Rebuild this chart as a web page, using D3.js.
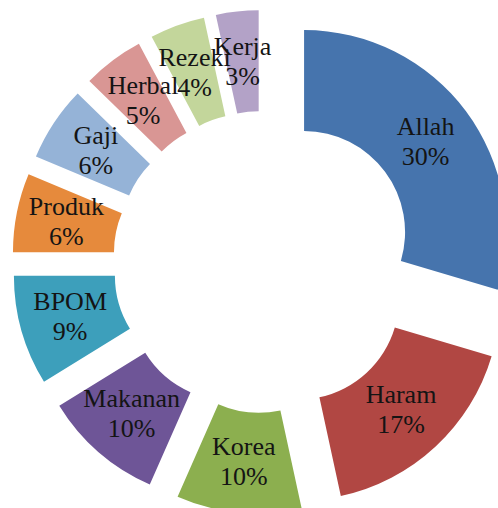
<!DOCTYPE html>
<html>
<head>
<meta charset="utf-8">
<script src="https://cdn.jsdelivr.net/npm/d3@7"></script>
<style>
  body { margin: 0; background: #fff; }
  #chart svg { display: block; }
</style>
</head>
<body>
<div id="chart"></div>
<script>
  // data
  let categories = ['Allah', 'Haram', 'Korea', 'Makanan', 'BPOM', 'Produk', 'Gaji', 'Herbal', 'Rezeki', 'Kerja']
  let values = [29.6, 17.0, 10.0, 9.6, 8.8, 6.3, 6.0, 4.9, 4.4, 3.4]
  let colors = ['#4674AD', '#B14743', '#8CAF4F', '#6E5597', '#3D9FBB', '#E68A3C', '#95B3D7', '#D99694', '#C3D69B', '#B3A2C7']

  let width = 498
  let height = 508
  let cx = 264
  let cy = 262
  let outerR = 202
  let innerR = 101
  let explode = 50

  let data = categories.map((c, i) => ({ name: c, value: values[i], color: colors[i] }))
  let total = d3.sum(values)

  let pie = d3.pie().sort(null).value(d => d.value)
  let arc = d3.arc().innerRadius(innerR).outerRadius(outerR)
  let arcs = pie(data)

  let svg = d3.select('#chart')
    .append('svg')
    .attr('width', width)
    .attr('height', height)

  let g = svg.append('g').attr('transform', `translate(${cx}, ${cy})`)

  /* offset of each slice along its bisector */
  function shift(d) {
    let a = (d.startAngle + d.endAngle) / 2
    return [explode * Math.sin(a), -explode * Math.cos(a)]
  }

  g.selectAll('.slice')
    .data(arcs)
    .enter()
    .append('path')
    .attr('class', 'slice')
    .attr('d', arc)
    .attr('transform', d => `translate(${shift(d)})`)
    .style('fill', d => d.data.color)

  let labels = g.selectAll('.label')
    .data(arcs)
    .enter()
    .append('text')
    .attr('class', 'label')
    .attr('transform', d => {
      let c = arc.centroid(d)
      let s = shift(d)
      return `translate(${c[0] + s[0]}, ${c[1] + s[1]})`
    })
    .attr('text-anchor', 'middle')
    .style('font-family', '"Liberation Serif", "Times New Roman", serif')
    .style('font-size', '26px')
    .style('fill', '#141414')

  labels.append('tspan')
    .attr('x', 0)
    .attr('y', -7)
    .text(d => d.data.name)

  labels.append('tspan')
    .attr('x', 0)
    .attr('y', 23)
    .text(d => Math.round(d.data.value / total * 100) + '%')
</script>
</body>
</html>
